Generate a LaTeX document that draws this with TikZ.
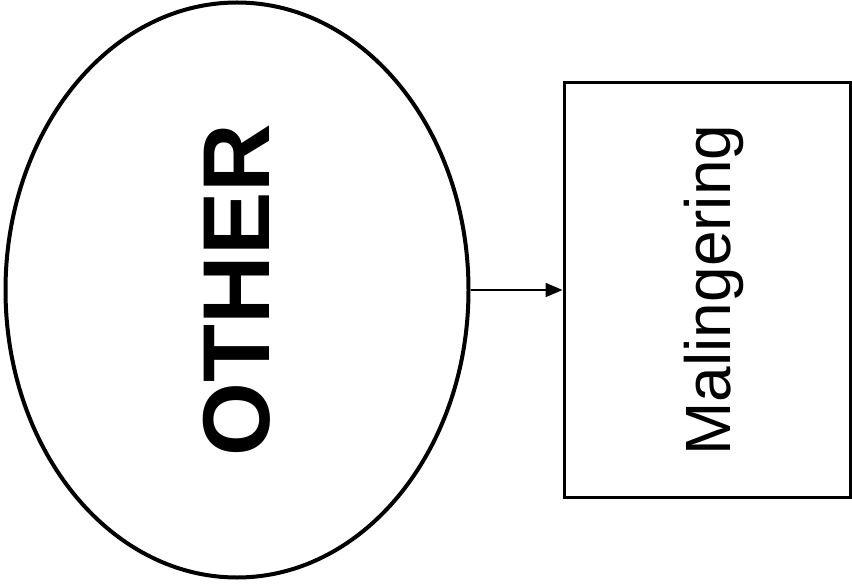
\documentclass[tikz,border=0pt]{standalone}
\usepackage{fontspec}
\setmainfont{Liberation Sans}
\usetikzlibrary{shapes.geometric,arrows.meta}
\begin{document}
\begin{tikzpicture}[x=1pt, y=-1pt,
    oval/.style={ellipse, draw, line width=4pt, minimum width=463pt, minimum height=575pt, inner sep=0pt},
    box/.style={rectangle, draw, line width=3pt, minimum width=286pt, minimum height=414pt, inner sep=0pt},
    link/.style={line width=2pt, -{Triangle[length=17pt, width=14pt]}}]
      \useasboundingbox (0,0) rectangle (852,588);
      %
      \node[oval] (other) at (237,290) {\rotatebox{90}{\fontsize{95}{95}\selectfont\bfseries OTHER}};
      \node[box] (maling) at (707,290) {\rotatebox{90}{\fontsize{64}{64}\selectfont\raisebox{0pt}[\height][0pt]{Malingering}}};
      %
      \draw[link] (other.east) -- (maling.west);
      %
    \end{tikzpicture}
\end{document}
